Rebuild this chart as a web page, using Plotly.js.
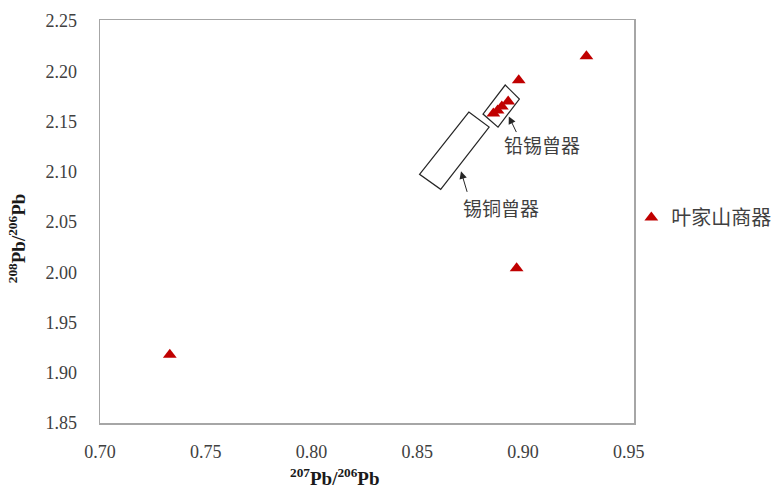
<!DOCTYPE html>
<html>
<head>
<meta charset="utf-8">
<script src="https://cdn.plot.ly/plotly-3.0.1.min.js"></script>
<style>html,body{margin:0;padding:0;background:#fff;}#chart{width:771px;height:488px;}</style>
</head>
<body>
<div id="chart"></div>
<script>
// Data: 207Pb/206Pb vs 208Pb/206Pb, 叶家山商器
const seriesName = "叶家山商器";
const pb207_206 = [0.733, 0.897, 0.930, 0.898, 0.886, 0.888, 0.890, 0.893];
const pb208_206 = [1.918, 2.004, 2.215, 2.191, 2.158, 2.161, 2.165, 2.170];

// Field outlines (data units)
const tinCopperBoxX = [0.8744, 0.8840, 0.8611, 0.8511];
const tinCopperBoxY = [2.1594, 2.1444, 2.0825, 2.0975];
const leadTinBoxX = [0.8916, 0.8983, 0.8882, 0.8811];
const leadTinBoxY = [2.1863, 2.1724, 2.1444, 2.1574];

const xTicks = [0.70, 0.75, 0.80, 0.85, 0.90, 0.95];
const yTicks = [1.85, 1.90, 1.95, 2.00, 2.05, 2.10, 2.15, 2.20, 2.25];

function boxPath(xs, ys) {
  let p = "M" + xs[0] + "," + ys[0];
  for (let i = 1; i < xs.length; i++) p += " L" + xs[i] + "," + ys[i];
  return p + " Z";
}

const trace = {
  x: pb207_206, y: pb208_206, type: "scatter", mode: "markers", name: seriesName,
  marker: {symbol: "triangle-up", size: 12, color: "#c00000"}
};

const cjk = "Noto Sans CJK SC";
const serif = "Liberation Serif";

const layout = {
  width: 771, height: 488,
  margin: {l: 100, r: 137, t: 19.5, b: 65, autoexpand: false},
  paper_bgcolor: "#fff", plot_bgcolor: "#fff",
  showlegend: true,
  legend: {x: 0.995, xanchor: "left", y: 0.51, yanchor: "middle",
           font: {family: cjk, size: 20, color: "#404040"}, bgcolor: "rgba(0,0,0,0)"},
  xaxis: {range: [0.70, 0.9525], tickvals: xTicks, ticktext: xTicks.map(v => v.toFixed(2)),
          showgrid: false, zeroline: false, showline: true, mirror: true, linecolor: "#a6a6a6", linewidth: 1.5,
          ticks: "", ticklabelstandoff: 12, tickfont: {family: serif, size: 18, color: "#404040"}},
  yaxis: {range: [1.85, 2.251], tickvals: yTicks, ticktext: yTicks.map(v => v.toFixed(2)),
          showgrid: false, zeroline: false, showline: true, mirror: true, linecolor: "#a6a6a6", linewidth: 1.5,
          ticks: "", ticklabelstandoff: 18, tickfont: {family: serif, size: 18, color: "#404040"}},
  shapes: [
    {type: "path", xref: "x", yref: "y", path: boxPath(tinCopperBoxX, tinCopperBoxY), line: {color: "#262626", width: 1.2}},
    {type: "path", xref: "x", yref: "y", path: boxPath(leadTinBoxX, leadTinBoxY), line: {color: "#262626", width: 1.2}}
  ],
  annotations: [
    {xref: "paper", yref: "paper", x: 0.44, y: -0.134, yanchor: "middle", showarrow: false,
     text: "<b><sup>207</sup>Pb/<sup>206</sup>Pb</b>", font: {family: serif, size: 19, color: "#1a1a1a"}},
    {xref: "paper", yref: "paper", x: -0.154, y: 0.458, xanchor: "center", showarrow: false, textangle: -90,
     text: "<b><sup>208</sup>Pb/<sup>206</sup>Pb</b>", font: {family: serif, size: 19, color: "#1a1a1a"}},
    {xref: "x", yref: "y", x: 0.8933, y: 2.1551, axref: "x", ayref: "y", ax: 0.8972, ay: 2.1380,
     showarrow: true, arrowhead: 2, arrowsize: 1.5, arrowwidth: 1, arrowcolor: "#262626", text: ""},
    {xref: "x", yref: "y", x: 0.9092, y: 2.1274, showarrow: false, text: "铅锡曾器",
     font: {family: cjk, size: 19, color: "#404040"}},
    {xref: "x", yref: "y", x: 0.8707, y: 2.1004, axref: "x", ayref: "y", ax: 0.8738, ay: 2.0785,
     showarrow: true, arrowhead: 2, arrowsize: 1.5, arrowwidth: 1, arrowcolor: "#262626", text: ""},
    {xref: "x", yref: "y", x: 0.8897, y: 2.0646, showarrow: false, text: "锡铜曾器",
     font: {family: cjk, size: 19, color: "#404040"}}
  ]
};

Plotly.newPlot("chart", [trace], layout, {displayModeBar: false, staticPlot: true});
</script>
</body>
</html>
